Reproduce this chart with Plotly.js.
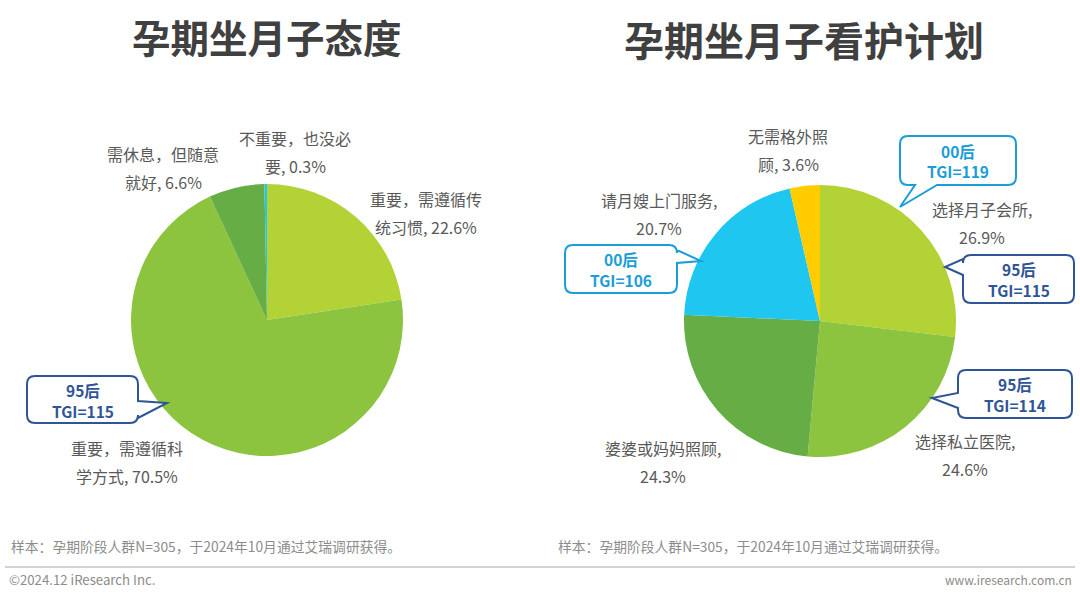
<!DOCTYPE html>
<html>
<head>
<meta charset="utf-8">
<script src="https://cdn.plot.ly/plotly-3.0.1.min.js"></script>
<style>html,body{margin:0;padding:0;background:#fff;}#chart{width:1080px;height:595px;}</style>
</head>
<body>
<div id="chart"></div>
<script>
// ---------- DATA ----------
const leftTitle = '孕期坐月子态度';
const rightTitle = '孕期坐月子看护计划';
const leftLabels = ['重要，需遵循传统习惯', '重要，需遵循科学方式', '需休息，但随意就好', '不重要，也没必要'];
const leftValues = [22.6, 70.5, 6.6, 0.3];
const rightLabels = ['选择月子会所', '选择私立医院', '婆婆或妈妈照顾', '请月嫂上门服务', '无需格外照顾'];
const rightValues = [26.9, 24.6, 24.3, 20.7, 3.6];
const calloutGen = ['95后', '00后', '00后', '95后', '95后'];
const calloutTGI = [115, 119, 106, 115, 114];
const sourceNote = '样本：孕期阶段人群N=305，于2024年10月通过艾瑞调研获得。';
const copyright = '©2024.12 iResearch Inc.';
const website = 'www.iresearch.com.cn';

// ---------- LAYOUT / STYLE ----------
const W = 1080, H = 595;
const px = x => x / W;
const py = y => 1 - y / H;
const leftColors = ['#b2d235', '#8cc43f', '#66ad45', '#1fc6ef'];
const rightColors = ['#b2d235', '#8cc43f', '#66ad45', '#1fc6ef', '#ffcc00'];
const labelFont = {family: 'Noto Sans CJK SC, sans-serif', size: 16, color: '#595959'};
const R = 136;
function dom(cx, cy) {
  return {x: [px(cx - R), px(cx + R)], y: [py(cy + R), py(cy - R)]};
}

const traces = [
  {type: 'pie', values: leftValues, labels: leftLabels, sort: false, direction: 'clockwise', rotation: 0,
   marker: {colors: leftColors, line: {width: 0}}, textinfo: 'none', hoverinfo: 'label+value',
   domain: dom(267, 320), showlegend: false},
  {type: 'pie', values: rightValues, labels: rightLabels, sort: false, direction: 'clockwise', rotation: 0,
   marker: {colors: rightColors, line: {width: 0}}, textinfo: 'none', hoverinfo: 'label+value',
   domain: dom(820, 321), showlegend: false}
];

const annotations = [];
function addText(x, y, text, font, anchor) {
  annotations.push({xref: 'paper', yref: 'paper', x: px(x), y: py(y), text: text, showarrow: false,
    font: font, xanchor: anchor || 'center', yanchor: 'middle'});
}
// titles
addText(267, 36, '<b>' + leftTitle + '</b>', {family: 'Noto Sans CJK SC, sans-serif', size: 38.5, color: '#404040', weight: 'bold'});
addText(804, 39, '<b>' + rightTitle + '</b>', {family: 'Noto Sans CJK SC, sans-serif', size: 40, color: '#404040', weight: 'bold'});

// slice labels: [x center, first line y, break index]
const leftPos = [[426, 199, 7], [127, 448, 7], [163, 154, 7], [295, 138, 7]];
const rightPos = [[982, 209, null], [965, 441, null], [663, 448, null], [659, 200, null], [788, 136, 5]];
function addLabels(labels, values, pos) {
  labels.forEach((lab, i) => {
    const full = lab + ', ' + values[i].toFixed(1) + '%';
    const b = pos[i][2] == null ? lab.length + 1 : pos[i][2];
    addText(pos[i][0], pos[i][1], full.slice(0, b), labelFont);
    addText(pos[i][0], pos[i][1] + 28, full.slice(b).trim(), labelFont);
  });
}
addLabels(leftLabels, leftValues, leftPos);
addLabels(rightLabels, rightValues, rightPos);

// callout bubbles
const dark = '#2f5597', light = '#1b9dd9';
// [x0,y0,x1,y1, side, tailA, tailB, tipX, tipY, color]
const bubbles = [
  [27, 376, 138, 423, 'right', 401, 418, 167, 403, dark],
  [900, 136, 1016, 185, 'bottom', 915, 937, 900, 207, light],
  [565, 245, 677, 293, 'right', 250, 263, 701, 261, light],
  [963, 255, 1074, 303, 'left', 259, 275, 945, 267, dark],
  [958, 370, 1072, 418, 'left', 393, 408, 932, 398, dark]
];
function P(x, y) { return px(x).toFixed(5) + ',' + py(y).toFixed(5); }
function bubblePath(b) {
  const [x0, y0, x1, y1, side, a, c, tx, ty] = b;
  const r = 8;
  let p = 'M' + P(x0 + r, y0);
  p += ' L' + P(x1 - r, y0) + ' Q' + P(x1, y0) + ' ' + P(x1, y0 + r);
  if (side === 'right') p += ' L' + P(x1, a) + ' L' + P(tx, ty) + ' L' + P(x1, c);
  p += ' L' + P(x1, y1 - r) + ' Q' + P(x1, y1) + ' ' + P(x1 - r, y1);
  if (side === 'bottom') p += ' L' + P(c, y1) + ' L' + P(tx, ty) + ' L' + P(a, y1);
  p += ' L' + P(x0 + r, y1) + ' Q' + P(x0, y1) + ' ' + P(x0, y1 - r);
  if (side === 'left') p += ' L' + P(x0, c) + ' L' + P(tx, ty) + ' L' + P(x0, a);
  p += ' L' + P(x0, y0 + r) + ' Q' + P(x0, y0) + ' ' + P(x0 + r, y0) + ' Z';
  return p;
}
const shapes = [];
bubbles.forEach((b, i) => {
  shapes.push({type: 'path', xref: 'paper', yref: 'paper', path: bubblePath(b),
    line: {color: b[9], width: 2}, fillcolor: '#ffffff'});
  const cx = (b[0] + b[2]) / 2, cy = (b[1] + b[3]) / 2;
  const f = {family: 'Noto Sans CJK SC, sans-serif', size: 15.5, color: b[9], weight: 'bold'};
  addText(cx, cy - 10, '<b>' + calloutGen[i] + '</b>', f);
  addText(cx, cy + 11, '<b>TGI=' + calloutTGI[i] + '</b>', f);
});

// footer
const noteFont = {family: 'Noto Sans CJK SC, sans-serif', size: 13.8, color: '#8c8c8c'};
addText(9, 546, sourceNote, noteFont, 'left');
addText(556, 546, sourceNote, noteFont, 'left');
addText(7, 579, copyright, {family: 'Noto Sans CJK SC, sans-serif', size: 13.2, color: '#8c8c8c'}, 'left');
addText(1074, 579, website, {family: 'Noto Sans CJK SC, sans-serif', size: 12, color: '#8c8c8c'}, 'right');
shapes.push({type: 'line', xref: 'paper', yref: 'paper', x0: px(5), x1: px(1075), y0: py(567), y1: py(567),
  line: {color: '#a6a6a6', width: 1.2}});

const layout = {
  width: W, height: H, margin: {l: 0, r: 0, t: 0, b: 0},
  paper_bgcolor: '#ffffff', plot_bgcolor: '#ffffff',
  showlegend: false, annotations: annotations, shapes: shapes
};
Plotly.newPlot('chart', traces, layout, {displayModeBar: false, staticPlot: true});
</script>
</body>
</html>
